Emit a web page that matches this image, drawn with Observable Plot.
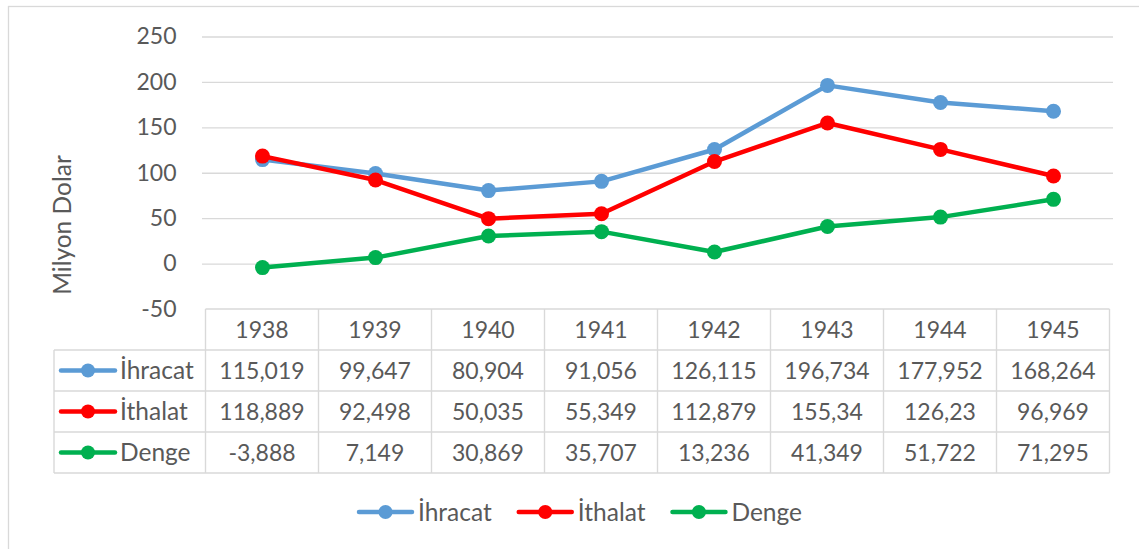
<!DOCTYPE html>
<html><head><meta charset="utf-8">
<script src="https://cdn.jsdelivr.net/npm/d3@7"></script>
<script src="https://cdn.jsdelivr.net/npm/@observablehq/plot@0.6"></script>
<style>
html,body{margin:0;padding:0;background:#fff;}
#chart{width:1139px;height:549px;overflow:hidden;position:relative;}
</style></head><body><div id="chart"></div>
<script>
const years = ["1938", "1939", "1940", "1941", "1942", "1943", "1944", "1945"];
const ihracat = [115.019, 99.647, 80.904, 91.056, 126.115, 196.734, 177.952, 168.264];
const ithalat = [118.889, 92.498, 50.035, 55.349, 112.879, 155.34, 126.23, 96.969];
const denge = [-3.888, 7.149, 30.869, 35.707, 13.236, 41.349, 51.722, 71.295];
const seriesNames = ["İhracat", "İthalat", "Denge"];
const seriesColors = ["#5B9BD5", "#FF0000", "#00B050"];
const yTicks = [-50, 0, 50, 100, 150, 200, 250];
const yLabel = "Milyon Dolar";

const seriesValues = [ihracat, ithalat, denge];
const data = seriesNames.flatMap((s, si) => years.map((y, i) => ({series: s, year: y, value: seriesValues[si][i]})));
const fmt = v => String(v).replace(".", ",");

const FONT = "Lato, 'Open Sans', sans-serif";
const TXT = "#595959";
const GRID = "#D9D9D9";
const FS = 23;     // numbers
const FSL = 24.5;  // words

const seriesMarks = seriesNames.flatMap(s => {
  const d = data.filter(r => r.series === s);
  return [
    Plot.line(d, {x: "year", y: "value", stroke: "series", strokeWidth: 4.5, strokeLinejoin: "round", strokeLinecap: "round"}),
    Plot.dot(d, {x: "year", y: "value", fill: "series", r: 7.5, stroke: "none"})
  ];
});

const plot = Plot.plot({
  width: 1139, height: 549,
  marginTop: 36.5, marginBottom: 240, marginLeft: 202, marginRight: 26,
  style: {fontFamily: FONT, fontSize: FS + "px", color: TXT, background: "transparent", overflow: "visible"},
  x: {type: "point", domain: years, padding: 0.5, axis: null},
  y: {domain: [-50, 250], axis: null},
  color: {domain: seriesNames, range: seriesColors},
  marks: [
    Plot.gridY(yTicks.filter(t => t > -50), {stroke: GRID, strokeOpacity: 1, strokeWidth: 1.4}),
    Plot.axisY(yTicks, {tickSize: 0, tickPadding: 26, label: null, fill: TXT, fontSize: FS, fontFamily: FONT, tickFormat: d => String(d)}),
    ...seriesMarks
  ]
});

document.getElementById("chart").appendChild(plot);
const svg = d3.select(plot);
const xs = plot.scale("x");
const X = y => xs.apply(y);
const step = X(years[1]) - X(years[0]);
const left = X(years[0]) - step / 2;
const right = X(years[years.length - 1]) + step / 2;

// outer chart border
svg.insert("rect", ":first-child").attr("x", 8.5).attr("y", 6.5).attr("width", 1300).attr("height", 700)
  .attr("fill", "none").attr("stroke", GRID).attr("stroke-width", 1.3);

// y-axis title
svg.append("text").attr("transform", "translate(62,225) rotate(-90)").attr("dy", "0.36em")
  .attr("text-anchor", "middle").attr("font-family", FONT).attr("font-size", FSL).attr("fill", TXT).text(yLabel);

// data table
const tTop = 309, rowH = 41, tLeft = 54;
const g = svg.append("g").attr("font-family", FONT).attr("font-size", FS).attr("fill", TXT).attr("text-anchor", "start");
const line = (x1, y1, x2, y2) => g.append("line").attr("x1", x1).attr("y1", y1).attr("x2", x2).attr("y2", y2)
  .attr("stroke", GRID).attr("stroke-width", 1.4);
line(left, tTop, right, tTop);
for (let r = 1; r <= 4; r++) line(tLeft, tTop + r * rowH, right, tTop + r * rowH);
line(tLeft, tTop + rowH, tLeft, tTop + 4 * rowH);
years.forEach(y => line(X(y) - step / 2, tTop, X(y) - step / 2, tTop + 4 * rowH));
line(right, tTop, right, tTop + 4 * rowH);

years.forEach(y => g.append("text").attr("x", X(y)).attr("y", tTop + rowH / 2).attr("dy", "0.36em")
  .attr("text-anchor", "middle").text(y));
seriesNames.forEach((s, si) => {
  const cy = tTop + rowH * (si + 1.5);
  g.append("line").attr("x1", 61).attr("x2", 115).attr("y1", cy).attr("y2", cy)
    .attr("stroke", seriesColors[si]).attr("stroke-width", 4.5).attr("stroke-linecap", "round");
  g.append("circle").attr("cx", 88).attr("cy", cy).attr("r", 7).attr("fill", seriesColors[si]);
  g.append("text").attr("x", 120).attr("y", cy).attr("dy", "0.36em").attr("font-size", FSL).attr("text-anchor", "start").text(s);
  years.forEach((y, i) => g.append("text").attr("x", X(y)).attr("y", cy).attr("dy", "0.36em")
    .attr("text-anchor", "middle").text(fmt(seriesValues[si][i])));
});

// bottom legend
const lg = svg.append("g").attr("font-family", FONT).attr("font-size", FSL).attr("fill", TXT).attr("text-anchor", "start");
let lx = 358; const ly = 512;
seriesNames.forEach((s, si) => {
  lg.append("line").attr("x1", lx + 1).attr("x2", lx + 54).attr("y1", ly).attr("y2", ly)
    .attr("stroke", seriesColors[si]).attr("stroke-width", 4.5).attr("stroke-linecap", "round");
  lg.append("circle").attr("cx", lx + 27.5).attr("cy", ly).attr("r", 7).attr("fill", seriesColors[si]);
  const t = lg.append("text").attr("x", lx + 60).attr("y", ly).attr("dy", "0.36em").attr("text-anchor", "start").text(s);
  lx += 60 + t.node().getComputedTextLength() + 26;
});
</script></body></html>
